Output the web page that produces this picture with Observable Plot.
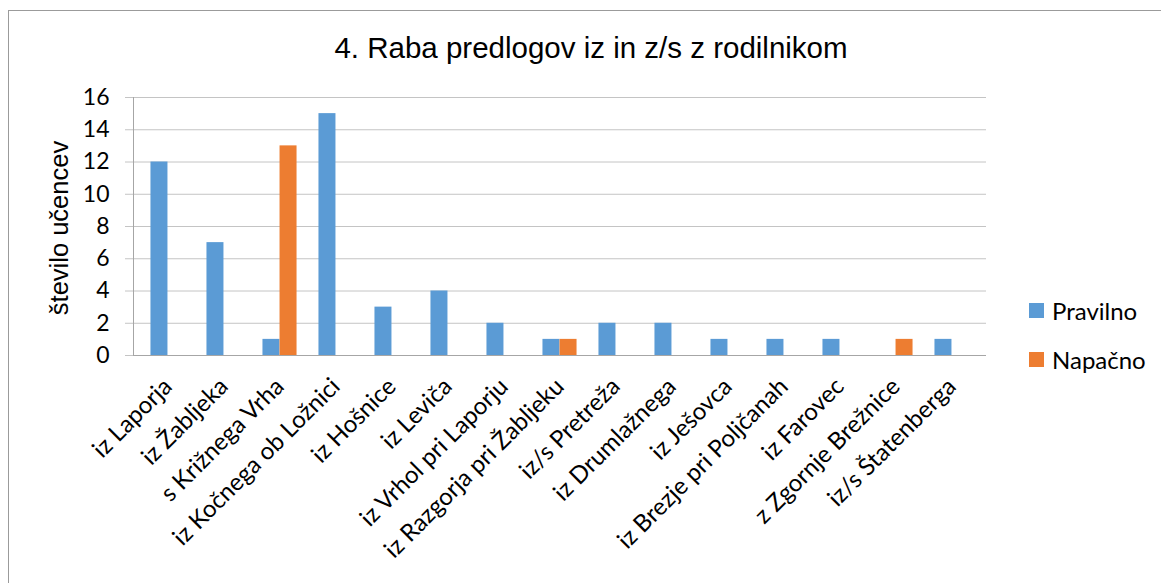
<!DOCTYPE html>
<html>
<head>
<meta charset="utf-8">
<script src="https://cdn.jsdelivr.net/npm/d3@7"></script>
<script src="https://cdn.jsdelivr.net/npm/@observablehq/plot@0.6"></script>
<style>
  html, body { margin: 0; padding: 0; background: #fff; }
  #wrap { position: relative; width: 1161px; height: 583px; overflow: hidden; }
  #border { position: absolute; left: 8px; top: 10px; width: 1300px; height: 700px; border: 1.5px solid #9b9b9b; box-sizing: border-box; }
  #title { position: absolute; left: 0; width: 1182px; top: 31px; text-align: center; font-family: Arial, "Liberation Sans", sans-serif; font-size: 29.5px; color: #000; }
  #ylabel { position: absolute; left: 59px; top: 228px; transform: translate(-50%, -50%) rotate(-90deg); white-space: nowrap; font-family: Arial, "Liberation Sans", sans-serif; font-size: 25.5px; color: #000; }
  #legend { position: absolute; left: 1029px; top: 286px; font-family: Lato, sans-serif; font-size: 24px; color: #000; }
  .li { display: flex; align-items: center; height: 49px; }
  .sw { width: 15px; height: 15px; margin-right: 8px; }
  #chart { position: absolute; left: 0; top: 0; }
</style>
</head>
<body>
<div id="wrap">
  <div id="border"></div>
  <div id="chart"></div>
  <div id="title"></div>
  <div id="ylabel"></div>
  <div id="legend"></div>
</div>
<script>
const title = "4. Raba predlogov iz in z/s z rodilnikom";
const yLabel = "število učencev";
const categories = [
  "iz Laporja", "iz Žabljeka", "s Križnega Vrha", "iz Kočnega ob Ložnici",
  "iz Hošnice", "iz Leviča", "iz Vrhol pri Laporju", "iz Razgorja pri Žabljeku",
  "iz/s Pretreža", "iz Drumlažnega", "iz Ješovca", "iz Brezje pri Poljčanah",
  "iz Farovec", "z Zgornje Brežnice", "iz/s Štatenberga"
];
const seriesNames = ["Pravilno", "Napačno"];
const pravilno = [12, 7, 1, 15, 3, 4, 2, 1, 2, 2, 1, 1, 1, 0, 1];
const napacno  = [0, 0, 13, 0, 0, 0, 0, 1, 0, 0, 0, 0, 0, 1, 0];
const seriesColors = ["#5B9BD5", "#ED7D31"];
const yTicks = [0, 2, 4, 6, 8, 10, 12, 14, 16];

const rowsP = categories.map((c, i) => ({cat: c, series: seriesNames[0], value: pravilno[i]})).filter(d => d.value > 0);
const rowsN = categories.map((c, i) => ({cat: c, series: seriesNames[1], value: napacno[i]})).filter(d => d.value > 0);

const half = 8.54;
const plot = Plot.plot({
  width: 1161,
  height: 583,
  marginTop: 97,
  marginBottom: 228,
  marginLeft: 133,
  marginRight: 175,
  style: {fontFamily: "Lato, sans-serif", fontSize: "23px", color: "#000", background: "transparent", overflow: "visible"},
  x: {type: "band", domain: categories, paddingInner: 0.7, paddingOuter: 0.35, label: null},
  y: {domain: [0, 16], label: null},
  color: {domain: seriesNames, range: seriesColors},
  marks: [
    Plot.gridY(yTicks, {stroke: "#c4c4c4", strokeOpacity: 1}),
    Plot.axisY(yTicks, {tickSize: 8, tickPadding: 16, stroke: "#c4c4c4", strokeOpacity: 1, fill: "#000", fontSize: 23, label: null}),
    Plot.barY(rowsP, {x: "cat", y: "value", fill: "series", dx: -half}),
    Plot.barY(rowsN, {x: "cat", y: "value", fill: "series", dx: half}),
    Plot.ruleY([0], {stroke: "#a6a6a6"}),
    Plot.frame({anchor: "left", stroke: "#a6a6a6"}),
    Plot.axisX({tickSize: 0, tickPadding: 27, tickRotate: -45, fill: "#000", fontSize: 24, label: null})
  ]
});
document.getElementById("chart").appendChild(plot);
document.getElementById("title").textContent = title;
document.getElementById("ylabel").textContent = yLabel;
const leg = document.getElementById("legend");
seriesNames.forEach((s, i) => {
  const row = document.createElement("div");
  row.className = "li";
  const sw = document.createElement("div");
  sw.className = "sw";
  sw.style.background = seriesColors[i];
  const t = document.createElement("span");
  t.textContent = s;
  row.appendChild(sw); row.appendChild(t);
  leg.appendChild(row);
});
</script>
</body>
</html>
